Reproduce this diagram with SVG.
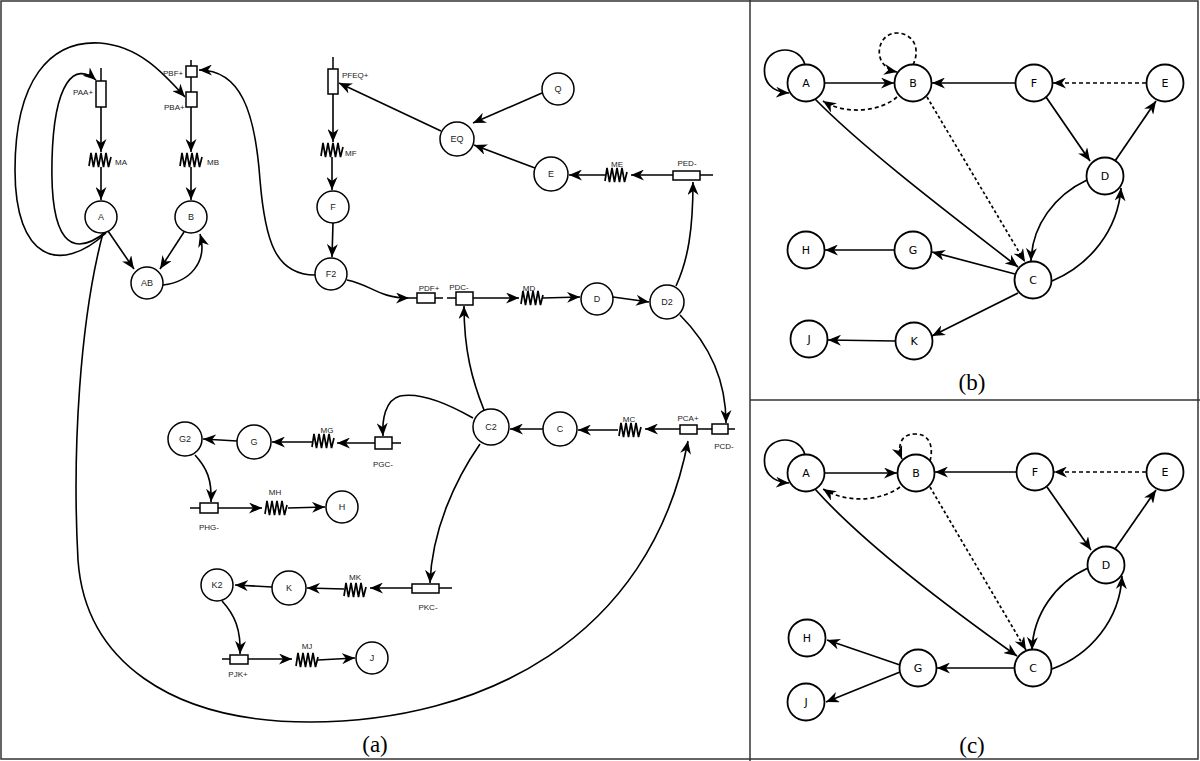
<svg xmlns="http://www.w3.org/2000/svg" width="1200" height="761" viewBox="0 0 1200 761">
<defs>
<style>
.frame{fill:none;stroke:#333;stroke-width:1.5}
.n{fill:#fff;stroke:#000;stroke-width:1.5}
.n2{fill:#fff;stroke:#000;stroke-width:1.8}
.p{fill:#fff;stroke:#000;stroke-width:1.5}
.w{fill:none;stroke:#000;stroke-width:1.5}
.e{fill:none;stroke:#000;stroke-width:1.6;marker-end:url(#ah)}
.e2{fill:none;stroke:#000;stroke-width:1.7;marker-end:url(#ah)}
.d{stroke-dasharray:4 3}
.dt{stroke-dasharray:3 2.5}
.res{fill:none;stroke:#000;stroke-width:1.7;stroke-linejoin:miter}
.t{font-family:"Liberation Sans",Arial,sans-serif;font-size:8px;fill:#222}
.nt{font-family:"Liberation Sans",Arial,sans-serif;font-size:9px;fill:#222;text-anchor:middle}
.bt{font-family:"DejaVu Sans",sans-serif;font-size:11px;fill:#000;text-anchor:middle}
.cap{font-family:"Liberation Serif","Times New Roman",serif;font-size:23px;fill:#000;text-anchor:middle}
.m{text-anchor:middle}
</style>
<marker id="ah" viewBox="-13 -5.5 13 11" refX="0" refY="0" markerWidth="13" markerHeight="11" markerUnits="userSpaceOnUse" orient="auto">
<path d="M0,0 L-13,-5.5 L-9,0 L-13,5.5 Z" fill="#000"/>
</marker>
<path id="zig" class="res" d="M-11,6 L-9,-7 L-6.5,7 L-4,-7 L-1.5,7 L1,-7 L3.5,7 L6,-7 L8.5,7 L11,-3"/>
</defs>
<rect width="1200" height="761" fill="#fff"/>
<g id="frame">
<rect class="frame" x="1" y="1" width="1197" height="758"/>
<line class="frame" x1="750" y1="0" x2="750" y2="761"/>
<line class="frame" x1="750" y1="400" x2="1200" y2="400"/>
</g>

<!-- Panel (a) connectors -->
<g id="connectors-a">
<path class="w" d="M101,68 V81"/>
<path class="e" d="M101,107 V152"/>
<path class="e" d="M101,167 V200"/>
<path class="w" d="M191,60 V66 M191,77 V92"/>
<path class="e" d="M191,107 V152"/>
<path class="e" d="M191,167 V200"/>
<path class="w" d="M333,57 V69"/>
<path class="e" d="M333,94 V142"/>
<path class="e" d="M332,157 V190"/>
<path class="e" d="M333,223 L332,257"/>
<path class="e" d="M315,275 C275,275 265,240 260,180 C255,110 240,70 199,70"/>
<path class="e" d="M106,232 C70,260 50,240 52,160 C54,80 75,62 96,80"/>
<path class="e" d="M106,233 C60,275 15,260 15,170 C15,80 50,40 100,43 C140,46 165,75 185,97"/>
<path class="e" d="M108,231 L134,269"/>
<path class="e" d="M184,232 L160,269"/>
<path class="e" d="M163,285 C190,282 208,262 200,234"/>
<path class="e" d="M347,280 C372,285 378,298 409,298"/>
<path class="w" d="M409,298 H417 M435,298 H443 M447,298 H456"/>
<path class="e" d="M473,298 H519"/>
<path class="e" d="M543,298 L580,297"/>
<path class="e" d="M613,297 L649,302"/>
<path class="e" d="M676,286 C688,260 693,230 693,182"/>
<path class="w" d="M700,175 H713"/>
<path class="e" d="M673,175 H631"/>
<path class="e" d="M605,175 H569"/>
<path class="e" d="M535,168 L474,145"/>
<path class="e" d="M542,93 L473,123"/>
<path class="e" d="M441,131 L339,83"/>
<path class="e" d="M680,315 C710,345 726,380 726,423"/>
<path class="w" d="M728,429 H735 M697,429 H712"/>
<path class="e" d="M680,429 H645"/>
<path class="e" d="M618,430 L578,430"/>
<path class="e" d="M543,429 H510"/>
<path class="e" d="M484,410 C472,380 464,350 464,306"/>
<path class="e" d="M473,418 C445,402 420,392 400,396 C385,400 382,420 383,436"/>
<path class="w" d="M392,443 H401"/>
<path class="e" d="M375,443 H337"/>
<path class="e" d="M312,442 H272"/>
<path class="e" d="M237,441 L203,439"/>
<path class="e" d="M195,455 C207,468 212,480 211,502"/>
<path class="w" d="M190,508 H200"/>
<path class="e" d="M218,508 H262"/>
<path class="e" d="M288,508 L325,507"/>
<path class="e" d="M480,444 C455,480 432,530 430,583"/>
<path class="w" d="M439,588 H452"/>
<path class="e" d="M412,588 H370"/>
<path class="e" d="M344,589 L307,588"/>
<path class="e" d="M272,587 L235,585"/>
<path class="e" d="M222,601 C235,615 241,630 240,654"/>
<path class="w" d="M222,659 H230"/>
<path class="e" d="M248,659 H292"/>
<path class="e" d="M318,660 L355,658"/>
<path class="e" d="M103,233 C80,320 72,450 78,560 C85,660 170,722 310,722 C480,722 650,640 688,441"/>
</g>

<!-- Panel (a) nodes -->
<g id="PAA"><rect class="p" x="96" y="81" width="10" height="26"/><text class="t" x="73" y="95">PAA+</text></g>
<g id="PBF"><rect class="p" x="186" y="66" width="11" height="11"/><text class="t" x="163" y="76">PBF+</text></g>
<g id="PBA"><rect class="p" x="186" y="92" width="11" height="15"/><text class="t" x="164" y="110">PBA+</text></g>
<g id="PFEQ"><rect class="p" x="328" y="69" width="10" height="25"/><text class="t" x="342" y="78">PFEQ+</text></g>
<g id="MA"><use href="#zig" x="100" y="160"/><text class="t" x="115" y="165">MA</text></g>
<g id="MB"><use href="#zig" x="191" y="160"/><text class="t" x="207" y="165">MB</text></g>
<g id="MF"><use href="#zig" x="332" y="150"/><text class="t" x="345" y="156">MF</text></g>
<g id="ME"><use href="#zig" x="616" y="175"/><text class="t m" x="617" y="167">ME</text></g>
<g id="PED"><rect class="p" x="673" y="171" width="27" height="9"/><text class="t m" x="687" y="166">PED-</text></g>
<g id="PDF"><rect class="p" x="417" y="293" width="18" height="10"/><text class="t m" x="429" y="291">PDF+</text></g>
<g id="PDC"><rect class="p" x="456" y="292" width="17" height="13"/><text class="t m" x="459" y="290">PDC-</text></g>
<g id="MD"><use href="#zig" x="532" y="298"/><text class="t m" x="529" y="291">MD</text></g>
<g id="MC"><use href="#zig" x="630" y="430"/><text class="t m" x="629" y="422">MC</text></g>
<g id="PCA"><rect class="p" x="680" y="425" width="17" height="9"/><text class="t m" x="688" y="421">PCA+</text></g>
<g id="PCD"><rect class="p" x="712" y="424" width="16" height="10"/><text class="t m" x="724" y="449">PCD-</text></g>
<g id="PGC"><rect class="p" x="375" y="437" width="17" height="12"/><text class="t m" x="383" y="467">PGC-</text></g>
<g id="MG"><use href="#zig" x="323" y="441"/><text class="t m" x="327" y="433">MG</text></g>
<g id="PHG"><rect class="p" x="200" y="503" width="18" height="10"/><text class="t m" x="209" y="530">PHG-</text></g>
<g id="MH"><use href="#zig" x="276" y="508"/><text class="t m" x="275" y="495">MH</text></g>
<g id="PKC"><rect class="p" x="412" y="584" width="27" height="9"/><text class="t m" x="428" y="610">PKC-</text></g>
<g id="MK"><use href="#zig" x="355" y="590"/><text class="t m" x="355" y="580">MK</text></g>
<g id="PJK"><rect class="p" x="230" y="655" width="18" height="9"/><text class="t m" x="238" y="677">PJK+</text></g>
<g id="MJ"><use href="#zig" x="307" y="660"/><text class="t m" x="307" y="649">MJ</text></g>

<g id="a-A"><circle class="n" cx="101" cy="217" r="16"/><text class="nt" x="101" y="220">A</text></g>
<g id="a-B"><circle class="n" cx="191" cy="217" r="16"/><text class="nt" x="191" y="220">B</text></g>
<g id="a-AB"><circle class="n" cx="147" cy="283" r="16"/><text class="nt" x="147" y="286">AB</text></g>
<g id="a-F"><circle class="n" cx="333" cy="207" r="16"/><text class="nt" x="333" y="210">F</text></g>
<g id="a-F2"><circle class="n" cx="331" cy="274" r="16"/><text class="nt" x="331" y="277">F2</text></g>
<g id="a-Q"><circle class="n" cx="558" cy="89" r="16"/><text class="nt" x="558" y="92">Q</text></g>
<g id="a-EQ"><circle class="n" cx="457" cy="139" r="17"/><text class="nt" x="457" y="142">EQ</text></g>
<g id="a-E"><circle class="n" cx="551" cy="174" r="17"/><text class="nt" x="551" y="177">E</text></g>
<g id="a-D"><circle class="n" cx="597" cy="299" r="16"/><text class="nt" x="597" y="302">D</text></g>
<g id="a-D2"><circle class="n" cx="667" cy="302" r="17"/><text class="nt" x="667" y="305">D2</text></g>
<g id="a-C2"><circle class="n" cx="491" cy="427" r="18"/><text class="nt" x="491" y="430">C2</text></g>
<g id="a-C"><circle class="n" cx="560" cy="429" r="17"/><text class="nt" x="560" y="432">C</text></g>
<g id="a-G2"><circle class="n" cx="185" cy="439" r="17"/><text class="nt" x="185" y="442">G2</text></g>
<g id="a-G"><circle class="n" cx="254" cy="442" r="17"/><text class="nt" x="254" y="445">G</text></g>
<g id="a-H"><circle class="n" cx="342" cy="507" r="16"/><text class="nt" x="342" y="510">H</text></g>
<g id="a-K2"><circle class="n" cx="217" cy="585" r="16"/><text class="nt" x="217" y="588">K2</text></g>
<g id="a-K"><circle class="n" cx="289" cy="588" r="17"/><text class="nt" x="289" y="591">K</text></g>
<g id="a-J"><circle class="n" cx="372" cy="658" r="16"/><text class="nt" x="372" y="661">J</text></g>
<text class="cap" x="375" y="752">(a)</text>

<!-- Panel (b) -->
<g id="connectors-b">
<path class="e2" d="M805,65 C800,45 770,45 765,65 C762,82 772,92 789,93"/>
<path class="e2" d="M825,83 H894"/>
<path class="e2 d" d="M913,65 C922,45 910,33 897,33 C882,33 875,50 882,62 C886,68 892,71 897,72"/>
<path class="e2 d" d="M897,97 C880,112 845,115 823,101"/>
<path class="e2" d="M1015,83 H932"/>
<path class="e2 d" d="M1146,83 H1053"/>
<path class="e2" d="M1046,97 L1090,161"/>
<path class="e2" d="M1115,161 L1156,101"/>
<path class="e2" d="M1087,180 C1055,195 1032,225 1031,261"/>
<path class="e2" d="M1052,281 C1090,265 1118,230 1121,188"/>
<path class="e2" d="M815,99 C865,150 955,218 1018,267"/>
<path class="e2 dt" d="M927,97 L1025,262"/>
<path class="e2" d="M1015,274 L932,252"/>
<path class="e2" d="M894,250 H825"/>
<path class="e2" d="M1018,293 L932,336"/>
<path class="e2" d="M895,341 L828,340"/>
</g>
<g id="b-A"><circle class="n2" cx="806" cy="83" r="18.5"/><text class="bt" x="806" y="87">A</text></g>
<g id="b-B"><circle class="n2" cx="913" cy="83" r="18.5"/><text class="bt" x="913" y="87">B</text></g>
<g id="b-F"><circle class="n2" cx="1034" cy="83" r="18.5"/><text class="bt" x="1034" y="87">F</text></g>
<g id="b-E"><circle class="n2" cx="1165" cy="83" r="18.5"/><text class="bt" x="1165" y="87">E</text></g>
<g id="b-D"><circle class="n2" cx="1105" cy="176" r="18.5"/><text class="bt" x="1105" y="180">D</text></g>
<g id="b-C"><circle class="n2" cx="1033" cy="280" r="18.5"/><text class="bt" x="1033" y="284">C</text></g>
<g id="b-G"><circle class="n2" cx="913" cy="250" r="18.5"/><text class="bt" x="913" y="254">G</text></g>
<g id="b-H"><circle class="n2" cx="806" cy="250" r="18.5"/><text class="bt" x="806" y="254">H</text></g>
<g id="b-K"><circle class="n2" cx="914" cy="341" r="18.5"/><text class="bt" x="914" y="345">K</text></g>
<g id="b-J"><circle class="n2" cx="809" cy="339" r="18.5"/><text class="bt" x="809" y="343">J</text></g>
<text class="cap" x="972" y="390">(b)</text>

<!-- Panel (c) -->
<g id="connectors-c">
<path class="e2" d="M805,455 C800,435 770,435 765,455 C762,472 772,482 789,483"/>
<path class="e2" d="M825,473 H897"/>
<path class="e2 d" d="M930,461 C933,450 932,434 915,434 C900,434 897,447 902,459"/>
<path class="e2 d" d="M900,487 C880,502 845,503 823,489"/>
<path class="e2" d="M1016,472 H935"/>
<path class="e2 d" d="M1146,472 H1054"/>
<path class="e2" d="M1047,487 L1091,550"/>
<path class="e2" d="M1115,549 L1156,490"/>
<path class="e2" d="M1088,568 C1055,583 1033,615 1032,650"/>
<path class="e2" d="M1052,669 C1090,655 1120,620 1122,576"/>
<path class="e2" d="M815,489 C865,545 955,612 1017,656"/>
<path class="e2 dt" d="M930,487 L1026,650"/>
<path class="e2" d="M1014,668 H937"/>
<path class="e2" d="M900,665 L827,640"/>
<path class="e2" d="M900,672 L826,702"/>
</g>
<g id="c-A"><circle class="n2" cx="806" cy="473" r="18.5"/><text class="bt" x="806" y="477">A</text></g>
<g id="c-B"><circle class="n2" cx="916" cy="473" r="18.5"/><text class="bt" x="916" y="477">B</text></g>
<g id="c-F"><circle class="n2" cx="1035" cy="472" r="18.5"/><text class="bt" x="1035" y="476">F</text></g>
<g id="c-E"><circle class="n2" cx="1165" cy="472" r="18.5"/><text class="bt" x="1165" y="476">E</text></g>
<g id="c-D"><circle class="n2" cx="1106" cy="565" r="18.5"/><text class="bt" x="1106" y="569">D</text></g>
<g id="c-C"><circle class="n2" cx="1033" cy="668" r="18.5"/><text class="bt" x="1033" y="672">C</text></g>
<g id="c-G"><circle class="n2" cx="918" cy="668" r="18.5"/><text class="bt" x="918" y="672">G</text></g>
<g id="c-H"><circle class="n2" cx="807" cy="638" r="18.5"/><text class="bt" x="807" y="642">H</text></g>
<g id="c-J"><circle class="n2" cx="806" cy="702" r="18.5"/><text class="bt" x="806" y="706">J</text></g>
<text class="cap" x="972" y="753">(c)</text>
</svg>
